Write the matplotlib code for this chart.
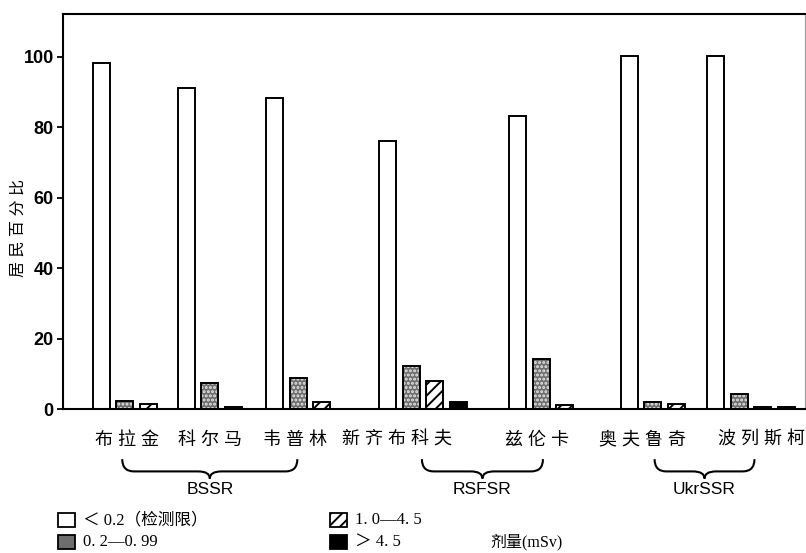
import numpy as np
import matplotlib.pyplot as plt
from matplotlib.patches import Rectangle, PathPatch
from matplotlib.path import Path

plt.rcParams['font.family'] = ['Liberation Sans', 'Noto Sans CJK SC']
plt.rcParams['hatch.linewidth'] = 1.4

# data (percent of residents in each dose class)
towns = ['布拉金', '科尔马', '韦普林', '新齐布科夫', '兹伦卡', '奥夫鲁奇', '波列斯柯']
below_02 = [98.3, 91.2, 88.2, 76.0, 83.2, 100.3, 100.3]
d02_099 = [2.2, 7.3, 8.7, 12.3, 14.2, 2.0, 4.4]
d10_45 = [1.4, 0.6, 2.1, 8.0, 1.1, 1.4, 0.5]
above_45 = [0, 0, 0, 2.0, 0, 0, 0.5]
republics = ['BSSR', 'RSFSR', 'UkrSSR']
dose_labels = ['＜ 0.2（检测限）', '0. 2—0. 99', '1. 0—4. 5', '＞ 4. 5']

# layout: x unit = one bar step
group_x = np.array([1.6, 5.22, 8.98, 13.8, 19.33, 24.08, 27.75])
label_x = [2.7, 6.25, 9.85, 14.2, 20.15, 24.65, 29.7]
brace_span = [(2.5, 9.95), (15.25, 20.4), (25.15, 29.4)]
W, H = 806, 553

fig = plt.figure(figsize=(W / 100, H / 100), dpi=100)
ax = fig.add_axes([63.5 / W, 1 - 409 / H, (805 - 63.5) / W, 395 / H])

bw = 0.72
series = [below_02, d02_099, d10_45, above_45]
for i, vals in enumerate(series):
    vals = np.array(vals, dtype=float)
    keep = vals > 0
    xs = group_x[keep] + i
    hs = vals[keep]
    if i == 0:
        ax.bar(xs, hs, bw, facecolor='white', edgecolor='black', linewidth=1.4)
    elif i == 1:
        ax.bar(xs, hs, bw, facecolor='#6e6e6e', edgecolor='#e8e8e8', hatch='....', linewidth=0)
        ax.bar(xs, hs, bw, fill=False, edgecolor='black', linewidth=1.4)
    elif i == 2:
        ax.bar(xs, hs, bw, facecolor='white', edgecolor='black', hatch='///', linewidth=1.4)
    else:
        ax.bar(xs, hs, bw, facecolor='black', edgecolor='black', linewidth=1.4)

ax.set_xlim(0, 31.55)
ax.set_ylim(0, 112.2)
ax.set_xticks([])
ax.set_yticks([0, 20, 40, 60, 80, 100])
ax.tick_params(axis='y', direction='out', length=4, width=1.3, labelsize=13, pad=3)
for t in ax.get_yticklabels():
    t.set_fontweight('bold')
for s in ['left', 'top', 'bottom']:
    ax.spines[s].set_linewidth(1.5)
ax.spines['right'].set_linewidth(0.8)
ax.spines['right'].set_color('#999999')

fig.text(18 / W, 1 - 228 / H, '居 民 百 分 比', rotation=90, ha='center', va='center', fontsize=11.5)

# town names, spaced out a little like the print
xt = ax.get_xaxis_transform()
for x, name in zip(label_x, towns):
    ax.text(x, -0.079, ' '.join(name), transform=xt, ha='center', va='center',
            fontsize=13, clip_on=False)

# braces with republic names
yt, ym, ytip = -0.127, -0.158, -0.176
r = 0.5
for (x0, x1), rep in zip(brace_span, republics):
    xc = (x0 + x1) / 2
    verts = [(x0, yt), (x0, ym), (x0 + r, ym), (xc - r, ym), (xc, ym), (xc, ytip),
             (xc, ym), (xc + r, ym), (x1 - r, ym), (x1, ym), (x1, yt)]
    codes = [Path.MOVETO, Path.CURVE3, Path.CURVE3, Path.LINETO, Path.CURVE3, Path.CURVE3,
             Path.CURVE3, Path.CURVE3, Path.LINETO, Path.CURVE3, Path.CURVE3]
    ax.add_patch(PathPatch(Path(verts, codes), transform=xt, fill=False, lw=1.5,
                           edgecolor='black', clip_on=False))
    ax.text(xc, -0.205, rep, transform=xt, ha='center', va='center', fontsize=12.5, clip_on=False)

# legend
boxes = [dict(facecolor='white'), dict(facecolor='#6e6e6e'),
         dict(facecolor='white', hatch='///'), dict(facecolor='black')]
spots = [(58, 520), (58, 542), (330, 520), (330, 542)]
for (px, py), style, lab in zip(spots, boxes, dose_labels):
    fig.add_artist(Rectangle((px / W, 1 - (py + 7) / H), 17 / W, 14 / H, transform=fig.transFigure,
                             edgecolor='black', linewidth=1.3, **style))
    fig.text((px + 25) / W, 1 - py / H, lab, ha='left', va='center', fontsize=12,
             family=['Liberation Serif', 'Noto Sans CJK SC'])
fig.text(490 / W, 1 - 542 / H, '剂量(mSv)', ha='left', va='center', fontsize=11.5,
         family=['Liberation Serif', 'Noto Sans CJK SC'])

fig.savefig('out.png', dpi=100)
